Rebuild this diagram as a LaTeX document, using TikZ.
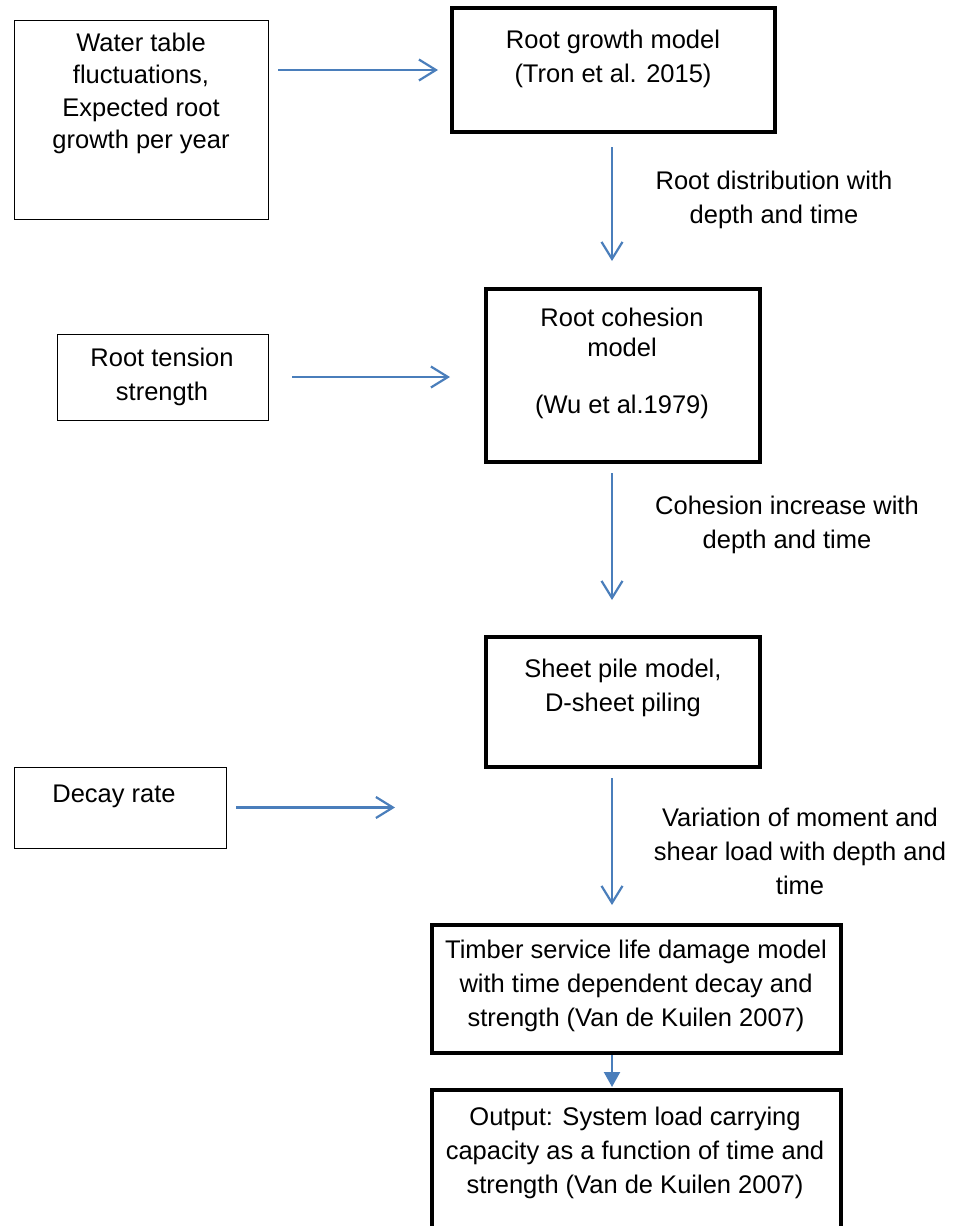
\documentclass[tikz,border=0pt]{standalone}
\usepackage{fontspec}
\setmainfont{Liberation Sans}
\usetikzlibrary{arrows.meta}
\definecolor{arrowblue}{RGB}{74,126,187}
\begin{document}
\begin{tikzpicture}[x=1pt,y=-1pt,
  thinbox/.style={draw=black, line width=1pt, outer sep=0pt, inner sep=0pt},
  thickbox/.style={draw=black, line width=4pt, outer sep=0pt, inner sep=0pt},
  txt/.style={align=center, font=\fontsize{25.5}{34}\selectfont, inner sep=0pt},
  arr/.style={draw=arrowblue, line width=2.2pt, -{Straight Barb[length=17pt,width=21pt]}},
  farr/.style={draw=arrowblue, line width=2.2pt, -{Triangle[length=15pt,width=16pt,fill=arrowblue]}}]
\useasboundingbox (0,0) rectangle (957,1226);
\clip (0,0) rectangle (957,1226);
\coordinate (spine) at (612,0);

% left input boxes
\node[thinbox, minimum width=254pt, minimum height=199pt] (A) at (141,119.5) {};
\node[txt, font=\fontsize{25.5}{32.3}\selectfont] (Atext) at (141,93.5) {Water table\\fluctuations,\\Expected root\\growth per year};

\node[thinbox, minimum width=211pt, minimum height=86pt] (T) at (162.5,377) {};
\node[txt] (Ttext) at (162,376.5) {Root tension\\strength};

\node[thinbox, minimum width=212pt, minimum height=81pt] (Dr) at (120,807.5) {};
\node[txt] (Drtext) at (114,796) {Decay rate};

% main column
\node[thickbox, minimum width=323pt, minimum height=124pt] (B) at (613.5,70) {};
\node[txt] (Btext) at (613,58.5) {Root growth model\\(Tron et al. 2015)};

\node[thickbox, minimum width=274pt, minimum height=173pt] (C) at (623,375.5) {};
\node[txt, font=\fontsize{25.5}{30}\selectfont] (Ctext) at (622,363.5) {Root cohesion\\model\\[27pt](Wu et al.1979)};

\node[thickbox, minimum width=274pt, minimum height=130pt] (D) at (623,702) {};
\node[txt] (Dtext) at (623,687.5) {Sheet pile model,\\D-sheet piling};

\node[thickbox, minimum width=409pt, minimum height=128pt] (E) at (636.5,989) {};
\node[txt] (Etext) at (636,986) {Timber service life damage model\\with time dependent decay and\\strength (Van de Kuilen 2007)};

\node[thickbox, minimum width=409pt, minimum height=170pt] (F) at (636.5,1175) {};
\node[txt] (Ftext) at (635,1152.5) {Output: System load carrying\\capacity as a function of time and\\strength (Van de Kuilen 2007)};

% connector labels
\node[txt] (L1) at (774,199.5) {Root distribution with\\depth and time};
\node[txt] (L2) at (787,525) {Cohesion increase with\\depth and time};
\node[txt] (L3) at (800,851) {Variation of moment and\\shear load with depth and\\time};

% horizontal arrows
\draw[arr, shorten <=10pt, shorten >=14pt] (A.east |- B.west) -- (B.west);
\draw[arr, shorten <=24pt, shorten >=36pt] (T.east) -- (C.west |- T.east);
\draw[arr, shorten <=10pt, shorten >=37pt] (Dr.east) -- (E.west |- Dr.east);

% vertical arrows
\draw[arr, shorten <=15pt, shorten >=28pt] (B.south -| spine) -- (C.north -| spine);
\draw[arr, shorten <=11pt, shorten >=37pt] (C.south -| spine) -- (D.north -| spine);
\draw[arr, shorten <=11pt, shorten >=20pt] (D.south -| spine) -- (E.north -| spine);
\draw[farr, shorten <=2pt, shorten >=3pt] (E.south -| spine) -- (F.north -| spine);
\end{tikzpicture}
\end{document}
